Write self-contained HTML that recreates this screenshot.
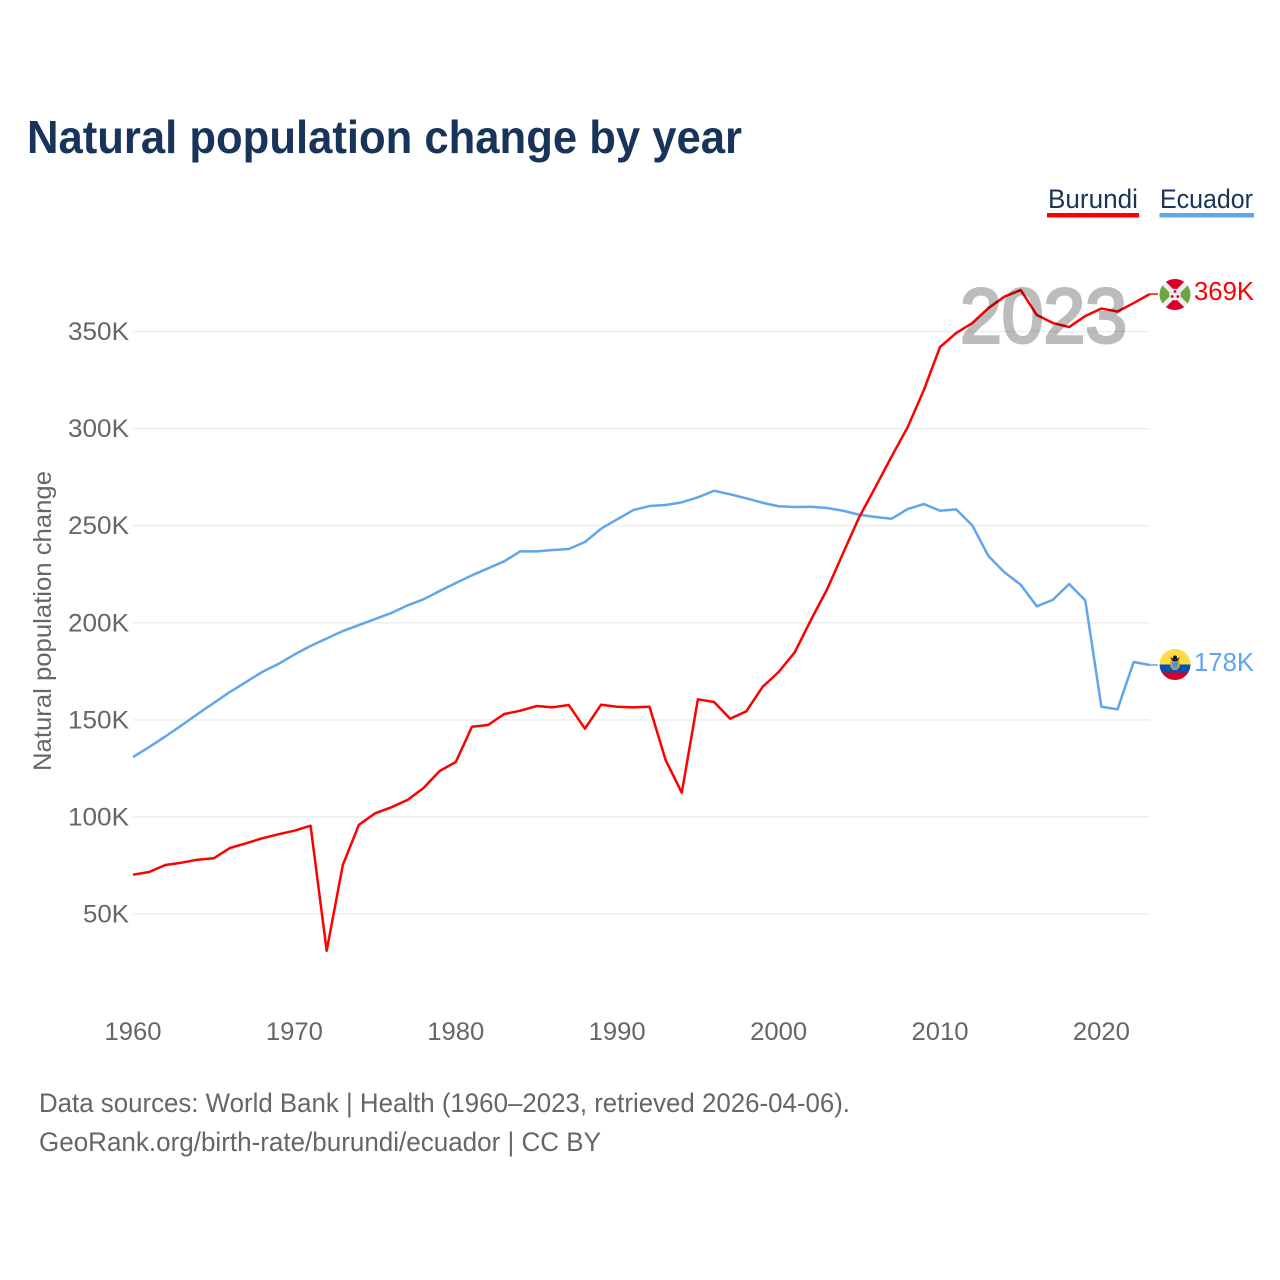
<!DOCTYPE html>
<html lang="en">
<head>
<meta charset="utf-8">
<title>Natural population change by year</title>
<style>
html,body{margin:0;padding:0;background:#fff;}
svg{display:block;font-family:"Liberation Sans",sans-serif;}
</style>
</head>
<body>
<svg id="chart" xmlns="http://www.w3.org/2000/svg" width="1280" height="1280" viewBox="0 0 1280 1280">
  <defs>
    <clipPath id="clip-bi"><circle cx="1175" cy="294.5" r="15.5"/></clipPath>
    <clipPath id="clip-ec"><circle cx="1175" cy="664.5" r="15.5"/></clipPath>
  </defs>
  <rect x="0" y="0" width="1280" height="1280" fill="#ffffff"/>
  <text x="27" y="153" font-size="46" font-weight="700" fill="#18345a" textLength="715" lengthAdjust="spacingAndGlyphs">Natural population change by year</text>

  <g>
    <text x="1048" y="208" font-size="27" fill="#18345a" textLength="90" lengthAdjust="spacingAndGlyphs">Burundi</text>
    <rect x="1047" y="213" width="92" height="4.5" fill="#ff0000"/>
  </g>
  <g>
    <text x="1160" y="208" font-size="27" fill="#18345a" textLength="93" lengthAdjust="spacingAndGlyphs">Ecuador</text>
    <rect x="1159.5" y="213" width="94.5" height="4.5" fill="#60a5ee"/>
  </g>

  <g id="grid"></g>
  <g id="yticks"></g>
  <g id="xticks"></g>
  <g id="series"></g>

  <text x="960" y="342.5" font-size="77" font-weight="400" fill="#000000" stroke="#000000" stroke-width="3" opacity="0.26" textLength="167" lengthAdjust="spacingAndGlyphs">2023</text>

  <text transform="translate(51,621) rotate(-90)" text-anchor="middle" font-size="25" fill="#666666" textLength="300" lengthAdjust="spacingAndGlyphs">Natural population change</text>

  <g clip-path="url(#clip-bi)">
    <rect x="1159" y="278" width="32" height="33" fill="#eeeeee"/>
    <polygon points="1158.5,274.5 1191.5,274.5 1175,291" fill="#d80027"/>
    <polygon points="1158.5,314.5 1191.5,314.5 1175,298" fill="#d80027"/>
    <polygon points="1155,278 1155,311 1171.5,294.5" fill="#6da544"/>
    <polygon points="1195,278 1195,311 1178.5,294.5" fill="#6da544"/>
    <circle cx="1175" cy="294.5" r="5.8" fill="#eeeeee"/>
    <circle cx="1175" cy="291.5" r="1.4" fill="#d80027"/>
    <circle cx="1172.2" cy="296.5" r="1.4" fill="#d80027"/>
    <circle cx="1177.8" cy="296.5" r="1.4" fill="#d80027"/>
  </g>
  <text x="1194" y="300" font-size="26" fill="#ff0000" textLength="60" lengthAdjust="spacingAndGlyphs">369K</text>

  <g clip-path="url(#clip-ec)">
    <rect x="1159" y="649" width="32" height="16" fill="#ffda44"/>
    <rect x="1159" y="664.5" width="32" height="8.5" fill="#0052b4"/>
    <rect x="1159" y="672.5" width="32" height="8.5" fill="#d80027"/>
    <ellipse cx="1175" cy="664" rx="5" ry="6" fill="#d8a72e"/>
    <ellipse cx="1175" cy="664" rx="3" ry="4.6" fill="#4f93e0"/>
    <polygon points="1170,657 1175,660 1180,657 1177.5,661 1172.5,661" fill="#111111"/>
    <circle cx="1175" cy="657.5" r="2" fill="#111111"/>
  </g>
  <text x="1194" y="671" font-size="26" fill="#60a5ee" textLength="60" lengthAdjust="spacingAndGlyphs">178K</text>

  <text x="39" y="1112" font-size="27" fill="#666666" textLength="811" lengthAdjust="spacingAndGlyphs">Data sources: World Bank | Health (1960–2023, retrieved 2026-04-06).</text>
  <text x="39" y="1151" font-size="27" fill="#666666" textLength="562" lengthAdjust="spacingAndGlyphs">GeoRank.org/birth-rate/burundi/ecuador | CC BY</text>
</svg>
<script>
const firstYear = 1960;
const burundi = [70240,71630,75235,76420,77965,78686,83990,86410,88986,91046,92900,95475,31100,75235,95990,101860,104950,108710,114890,123645,128280,146460,147335,153000,154700,157120,156450,157635,145430,157790,156760,156450,156760,129310,112470,160570,159180,150580,154390,166905,174630,184775,201410,217120,235915,254455,269905,285612,300805,319860,342005,349215,354365,362090,368010,371360,358485,354365,352305,357970,361830,360290,364665,369300];
const ecuador = [130855,136005,141410,147080,153000,158665,164330,169480,174630,178750,183640,188020,191880,195745,198835,201925,205015,208880,212070,216345,220465,224430,228035,231640,236790,236790,237460,237975,241580,248430,253270,258060,260120,260635,262025,264600,268000,266145,264085,261820,260015,259605,259760,259090,257700,255640,254455,253580,258575,261150,257700,258420,250180,234370,225975,219590,208465,211865,219950,211555,156760,155420,179780,178235];
const yTicks = [50000,100000,150000,200000,250000,300000,350000];
const yTickLabels = ["50K","100K","150K","200K","250K","300K","350K"];
const xTicks = [1960,1970,1980,1990,2000,2010,2020];

const svgNS = "http://www.w3.org/2000/svg";
function xScale(year){ return 133 + (year - 1960) * 16.14; }
function yScale(v){ return 914 - (v - 50000) / 50000 * 97.08; }

const gridG = document.getElementById("grid");
const yG = document.getElementById("yticks");
const xG = document.getElementById("xticks");
const seriesG = document.getElementById("series");

yTicks.forEach(function(v, i){
  const l = document.createElementNS(svgNS, "line");
  
  
  l.setAttribute("x1", xScale(1960));
  l.setAttribute("x2", xScale(2023));
  l.setAttribute("y1", yScale(v));
  l.setAttribute("y2", yScale(v));
  l.setAttribute("stroke", "#eeeeee");
  l.setAttribute("stroke-width", "1.5");
  gridG.appendChild(l);

  const t = document.createElementNS(svgNS, "text");
  
  
  t.setAttribute("x", 129);
  t.setAttribute("y", yScale(v) + 8.5);
  t.setAttribute("text-anchor", "end");
  t.setAttribute("font-size", "25");
  t.setAttribute("fill", "#666666");
  t.setAttribute("textLength", yTickLabels[i].length === 3 ? "46" : "61");
  t.setAttribute("lengthAdjust", "spacingAndGlyphs");
  t.textContent = yTickLabels[i];
  yG.appendChild(t);
});

xTicks.forEach(function(year){
  const t = document.createElementNS(svgNS, "text");
  
  
  t.setAttribute("x", xScale(year));
  t.setAttribute("y", 1040);
  t.setAttribute("text-anchor", "middle");
  t.setAttribute("font-size", "25");
  t.setAttribute("fill", "#666666");
  t.setAttribute("textLength", "57");
  t.setAttribute("lengthAdjust", "spacingAndGlyphs");
  t.textContent = String(year);
  xG.appendChild(t);
});

function drawLine(values, color){
  const pts = values.map(function(v, i){
    return xScale(firstYear + i).toFixed(2) + "," + yScale(v).toFixed(2);
  }).join(" ");
  const p = document.createElementNS(svgNS, "polyline");
  p.setAttribute("points", pts);
  p.setAttribute("fill", "none");
  p.setAttribute("stroke", color);
  p.setAttribute("stroke-width", "2.5");
  p.setAttribute("stroke-linejoin", "round");
  seriesG.appendChild(p);
  return p;
}
function drawConnector(values, color){
  const last = values[values.length - 1];
  const c = document.createElementNS(svgNS, "line");
  c.setAttribute("x1", xScale(2023));
  c.setAttribute("x2", 1158);
  c.setAttribute("y1", yScale(last));
  c.setAttribute("y2", yScale(last));
  c.setAttribute("stroke", color);
  c.setAttribute("stroke-width", "1.5");
  seriesG.appendChild(c);
  return c;
}

const ecuadorLine = drawLine(ecuador, "#60a5ee");


const ecuadorConnector = drawConnector(ecuador, "#60a5ee");



const burundiLine = drawLine(burundi, "#ff0000");


const burundiConnector = drawConnector(burundi, "#ff0000");


</script>
</body>
</html>
